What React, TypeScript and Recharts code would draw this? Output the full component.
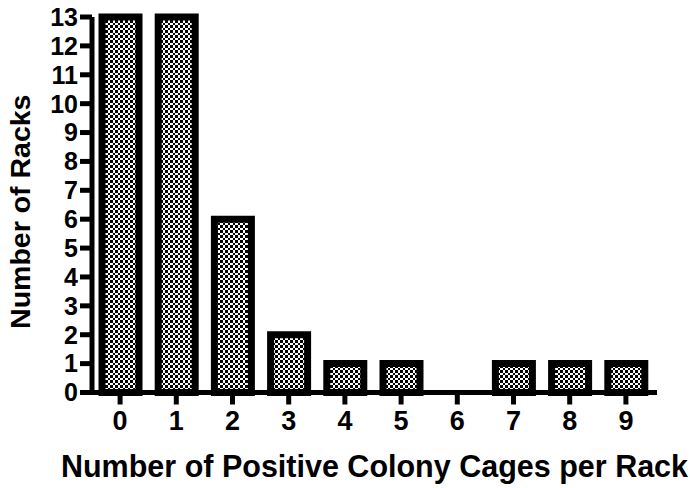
import { BarChart, Bar, XAxis, YAxis } from 'recharts';

const cageCounts = ['0', '1', '2', '3', '4', '5', '6', '7', '8', '9'];
const rackCounts = [13, 13, 6, 2, 1, 1, 0, 1, 1, 1];
const yTicks = [0, 1, 2, 3, 4, 5, 6, 7, 8, 9, 10, 11, 12, 13];

const chartData = cageCounts.map((c, i) => ({ cages: c, racks: rackCounts[i] }));

const font = '"Liberation Sans", Arial, sans-serif';

export default function App() {
  return (
    <div style={{ position: 'absolute', left: 0, top: 0, background: '#fff' }}>
      <BarChart
        width={690}
        height={488}
        data={chartData}
        margin={{ top: 17, right: 33, bottom: 0, left: 0 }}
      >
        <defs>
          <pattern id="checker" width="5" height="5" patternUnits="userSpaceOnUse">
            <rect x="0" y="0" width="5" height="5" fill="#fff" />
            <rect x="0" y="0" width="2.5" height="2.5" fill="#000" shapeRendering="crispEdges" />
            <rect x="2.5" y="2.5" width="2.5" height="2.5" fill="#000" shapeRendering="crispEdges" />
          </pattern>
        </defs>
        <XAxis
          dataKey="cages"
          height={95.5}
          padding={{ left: 0, right: 3 }}
          axisLine={{ stroke: '#000', strokeWidth: 5 }}
          tickLine={{ stroke: '#000', strokeWidth: 5 }}
          tickSize={12}
          tickMargin={6}
          tick={{ fill: '#000', fontSize: 27, fontWeight: 'bold', fontFamily: font }}
          label={{
            value: 'Number of Positive Colony Cages per Rack',
            position: 'insideBottom',
            offset: 11,
            fill: '#000',
            fontSize: 30.5,
            fontWeight: 'bold',
            fontFamily: font,
          }}
        />
        <YAxis
          width={92}
          domain={[0, 13]}
          ticks={yTicks}
          interval={0}
          axisLine={{ stroke: '#000', strokeWidth: 5 }}
          tickLine={{ stroke: '#000', strokeWidth: 5 }}
          tickSize={12}
          tickMargin={2}
          tick={{ fill: '#000', fontSize: 25, fontWeight: 'bold', fontFamily: font }}
          label={{
            value: 'Number of Racks',
            angle: -90,
            position: 'center',
            dx: -26,
            dy: 7,
            fill: '#000',
            fontSize: 28.5,
            fontWeight: 'bold',
            fontFamily: font,
          }}
        />
        <Bar
          dataKey="racks"
          barSize={37}
          fill="url(#checker)"
          stroke="#000"
          strokeWidth={7}
          isAnimationActive={false}
        />
      </BarChart>
    </div>
  );
}
